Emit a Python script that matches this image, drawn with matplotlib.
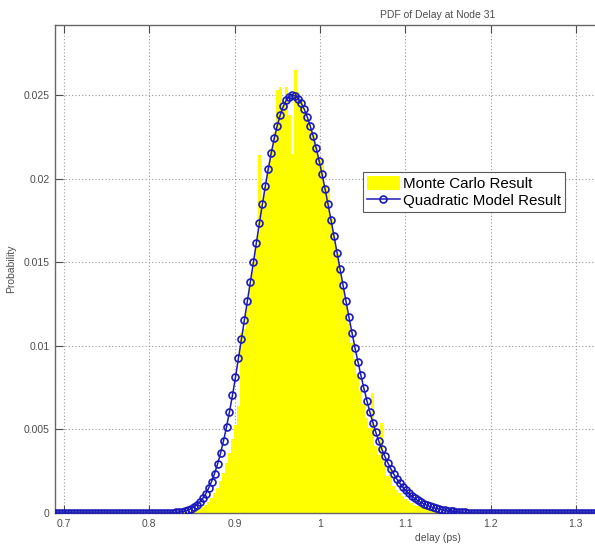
import numpy as np
import matplotlib
matplotlib.use("Agg")
import matplotlib.pyplot as plt

plt.rcParams['font.family'] = ['Liberation Sans', 'DejaVu Sans']

# Delay grid (ps) shared by the model curve and the histogram bins
grid_start = 0.6875
grid_step = 0.0035

# Quadratic model PDF evaluated on the delay grid
quad_prob = [0.0] * 39 + [
    0.00001, 0.00002, 0.00003, 0.00005, 0.00008, 0.00011, 0.00017, 0.00024, 0.00034, 0.00048,
    0.00065, 0.00087, 0.00114, 0.00148, 0.00188, 0.00236, 0.00293, 0.00358, 0.00432, 0.00514,
    0.00606, 0.00705, 0.00812, 0.00926, 0.01043, 0.01153, 0.01266, 0.01382, 0.01499, 0.01617,
    0.01734, 0.01847, 0.01957, 0.02060, 0.02156, 0.02242, 0.02318, 0.02382, 0.02433, 0.02470,
    0.02492, 0.02500,
    0.02495, 0.02479, 0.02453, 0.02417, 0.02372, 0.02318, 0.02256, 0.02186, 0.02109, 0.02026,
    0.01939, 0.01847, 0.01753, 0.01656, 0.01558, 0.01460, 0.01362, 0.01266, 0.01171, 0.01079,
    0.00990, 0.00905, 0.00823, 0.00746, 0.00673, 0.00604, 0.00541, 0.00482, 0.00429, 0.00382,
    0.00339, 0.00300, 0.00265, 0.00233, 0.00204, 0.00178, 0.00155, 0.00135, 0.00117, 0.00101,
    0.00087, 0.00075, 0.00064, 0.00055, 0.00047, 0.00040, 0.00034, 0.00028, 0.00024, 0.00020,
    0.00017, 0.00014, 0.00011, 0.00009, 0.00007, 0.00005, 0.00004, 0.00003, 0.00002, 0.00001,
] + [0.0] * 63

# Monte Carlo histogram (probability per bin), first bin index on the grid
mc_first_bin = 44
mc_prob = [
    0.00003, 0.00005, 0.00008, 0.00012, 0.00018, 0.00026, 0.00036, 0.00050, 0.00067, 0.00090,
    0.00118, 0.00150, 0.00190, 0.00240, 0.00300, 0.00362, 0.00440, 0.00525, 0.00640, 0.01080,
    0.01100, 0.01240, 0.01370, 0.01500, 0.01600, 0.02140, 0.01830, 0.01950, 0.02070, 0.02180,
    0.02280, 0.02530, 0.02550, 0.02440, 0.02550, 0.02380, 0.02150, 0.02650, 0.02520, 0.02460,
    0.02400, 0.02360, 0.02300, 0.02260, 0.02190, 0.02130, 0.02120, 0.01960, 0.01930, 0.01760,
    0.01650, 0.01550, 0.01450, 0.01340, 0.01240, 0.01130, 0.01020, 0.00920, 0.00830, 0.00730,
    0.00650, 0.00570, 0.00510, 0.00720, 0.00400, 0.00350, 0.00540, 0.00280, 0.00220, 0.00290,
    0.00160, 0.00140, 0.00120, 0.00100, 0.00086, 0.00072, 0.00060, 0.00050, 0.00042, 0.00034,
    0.00028, 0.00022, 0.00018, 0.00014, 0.00010, 0.00007, 0.00005, 0.00003, 0.00002,
]

x_ticks = [0.7, 0.8, 0.9, 1.0, 1.1, 1.2, 1.3]
x_tick_labels = ['0.7', '0.8', '0.9', '1', '1.1', '1.2', '1.3']
y_ticks = [0.0, 0.005, 0.01, 0.015, 0.02, 0.025]
y_tick_labels = ['0', '0.005', '0.01', '0.015', '0.02', '0.025']

quad_delay = grid_start + grid_step * np.arange(len(quad_prob))
mc_delay = grid_start + grid_step * (mc_first_bin + np.arange(len(mc_prob)))

W, H = 595, 550
fig = plt.figure(figsize=(W / 100, H / 100), dpi=100)
ax = fig.add_axes([55 / W, 37 / H, 766 / W, 488 / H])

bars = ax.bar(mc_delay, mc_prob, width=grid_step, color=(1, 1, 0), linewidth=0,
              zorder=2, label='Monte Carlo Result')
line, = ax.plot(quad_delay, quad_prob, '-o', color=(0.1, 0.1, 0.72), lw=1.1,
                ms=5.0, mfc='none', mew=1.2, zorder=3, label='Quadratic Model Result')

ax.set_xlim(0.6895, 1.5872)
ax.set_ylim(0, 0.0292)
ax.set_xticks(x_ticks)
ax.set_xticklabels(x_tick_labels)
ax.set_yticks(y_ticks)
ax.set_yticklabels(y_tick_labels)

tick_gray = (0.3, 0.3, 0.3)
ax.tick_params(direction='in', length=5.8, width=0.8, color=tick_gray,
               labelcolor=tick_gray, labelsize=7.5, top=True, right=True, pad=4)
for s in ax.spines.values():
    s.set_color((0.4, 0.4, 0.4))
    s.set_linewidth(1.0)

ax.set_axisbelow(True)
ax.grid(True, linestyle=(0, (1, 2)), color=(0.6, 0.6, 0.6), linewidth=0.8)

ax.set_title('PDF of Delay at Node 31', fontsize=7.5, color=tick_gray, pad=5)
ax.set_xlabel('delay (ps)', fontsize=7.5, color=tick_gray)
ax.set_ylabel('Probability', fontsize=7.5, color=tick_gray)
ax.xaxis.set_label_coords(0.5, -0.041)
ax.yaxis.set_label_coords(-0.0503, 0.5)

leg = ax.legend([bars, line], ['Monte Carlo Result', 'Quadratic Model Result'],
                loc='upper left', bbox_to_anchor=(363 / W, 1 - 172 / H),
                bbox_transform=fig.transFigure, borderaxespad=0, fontsize=10.9,
                fancybox=False, framealpha=1, edgecolor=(0.35, 0.35, 0.35),
                handlelength=2.2, handleheight=1.1, handletextpad=0.2,
                borderpad=0.25, labelspacing=0.12)
leg.get_frame().set_linewidth(0.8)

fig.savefig('out.png', dpi=100)
